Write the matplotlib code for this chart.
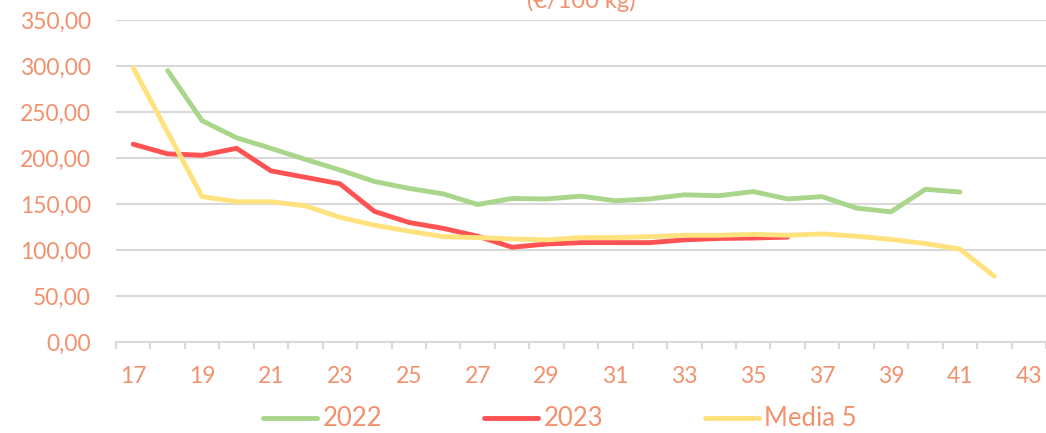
import matplotlib
matplotlib.use("Agg")
import matplotlib.pyplot as plt
import numpy as np

plt.rcParams['font.family'] = ['Lato', 'DejaVu Sans']

nan = np.nan

# settimane e prezzi (€/100 kg)
weeks = list(range(17, 44))
v2022 = [nan, 295, 240.5, 222, 210.5, 198.5, 187, 174.5, 167, 161, 149.5, 156, 155.5,
         158.5, 153.5, 155.5, 160, 159, 163.5, 155.5, 158, 145.5, 141.5, 166, 163, nan, nan]
v2023 = [215, 204.5, 203, 210.5, 186, 179, 172, 142, 130, 123.5, 115, 103, 106.5,
         108, 108, 108, 111, 112.5, 113, 114, nan, nan, nan, nan, nan, nan, nan]
media5 = [298, 228, 158, 152.5, 152.5, 148, 135.5, 127, 120.5, 114.5, 113.5, 112, 111,
          113.5, 113.5, 114.5, 116, 116, 117, 116, 117.5, 115, 111.5, 107, 101, 71.5, nan]
series_names = ['2022', '2023', 'Media 5']
title = '(€/100 kg)'

colors = ['#A9D68A', '#FF5252', '#FFE27E']
txt = '#F2916D'
grid = '#D9D9D9'

fig = plt.figure(figsize=(10.46, 4.33), dpi=100)
ax = fig.add_axes([116 / 1046, 1 - 342 / 433, 1 - 116 / 1046, (342 - 20) / 433])

for vals, c, name in zip([v2022, v2023, media5], colors, series_names):
    ax.plot(weeks, vals, color=c, lw=3.5, label=name,
            solid_capstyle='round', solid_joinstyle='round', zorder=3)

ax.set_xlim(16.5, 43.5)
ax.set_ylim(0, 350)

yt = np.arange(0, 351, 50)
ax.set_yticks(yt)
ax.set_yticklabels([f'{v:.2f}'.replace('.', ',') for v in yt])
ax.yaxis.grid(True, color=grid, lw=1.5, zorder=0)
ax.tick_params(axis='y', length=0, pad=18, labelsize=16.5, labelcolor=txt)

ax.set_xticks(weeks[::2])
ax.set_xticklabels([str(w) for w in weeks[::2]])
ax.set_xticks(np.arange(16.5, 43.6, 1), minor=True)
ax.tick_params(axis='x', which='major', length=0, pad=17, labelsize=16.5, labelcolor=txt)
ax.tick_params(axis='x', which='minor', length=5, width=1.5, color=grid)

for s in ['top', 'right', 'left']:
    ax.spines[s].set_visible(False)
ax.spines['bottom'].set_color(grid)
ax.spines['bottom'].set_linewidth(1.5)
ax.spines['bottom'].set_zorder(1)

fig.text(581 / 1046, 1 - 8 / 433, title, ha='center', va='baseline',
         fontsize=17, color=txt)

fig.legend(loc='center', bbox_to_anchor=(560 / 1046, 1 - 419 / 433), ncol=3,
           frameon=False, fontsize=18.5, labelcolor=txt, handlelength=2.1,
           handletextpad=0.22, columnspacing=3.95)

fig.savefig('out.png', dpi=100)
